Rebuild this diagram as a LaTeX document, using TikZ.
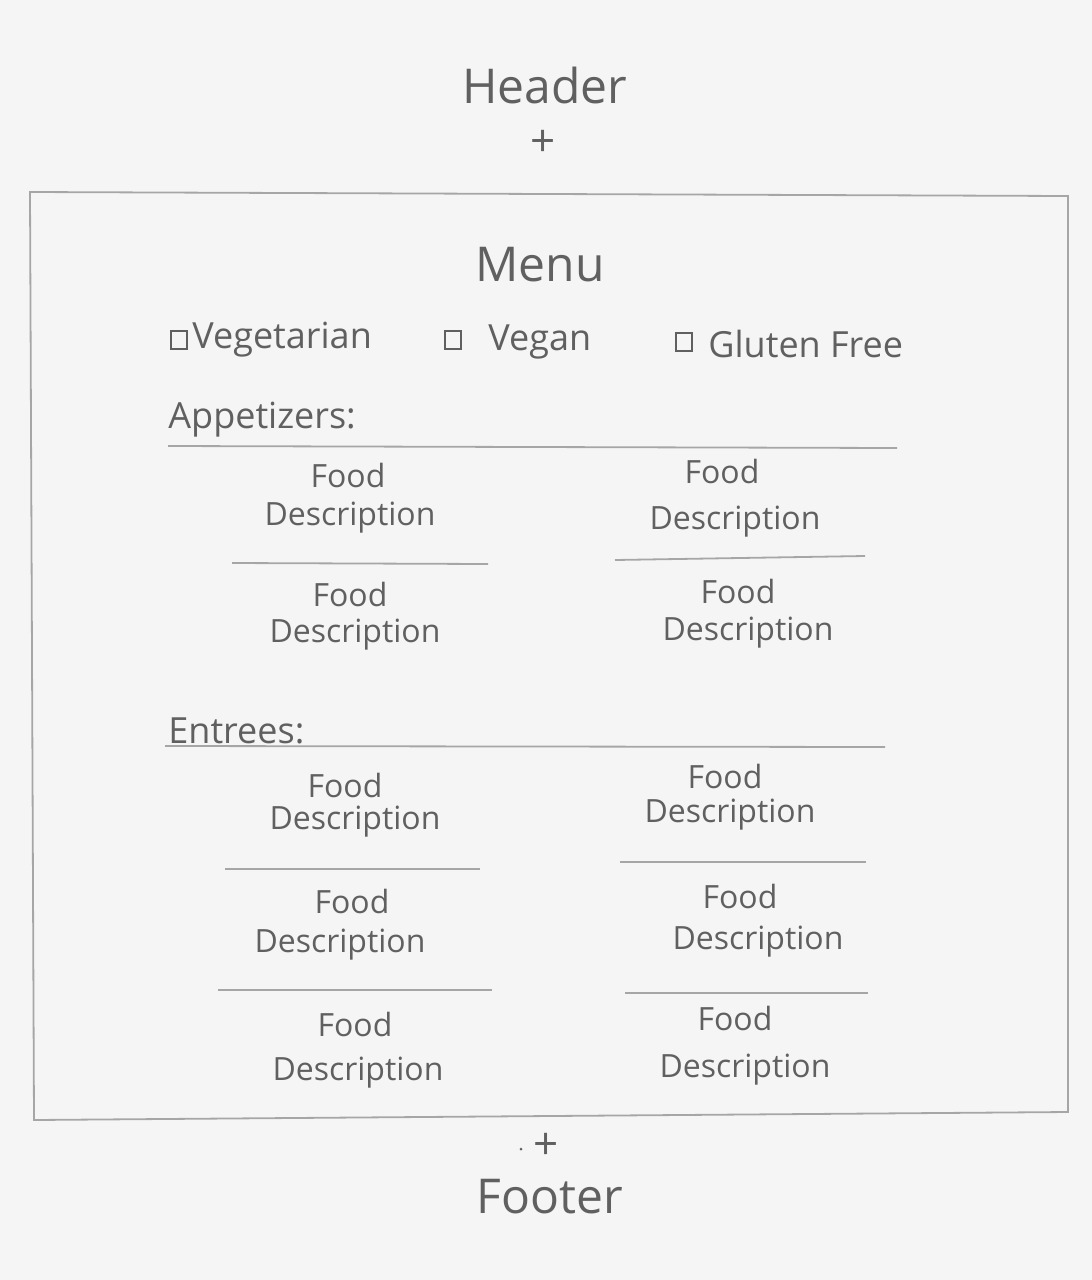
\documentclass[tikz,border=0pt]{standalone}
\usepackage{fontspec}
\setmainfont{Open Sans}
\begin{document}
\begin{tikzpicture}[x=0.5pt,y=-0.5pt,
  pencil/.style={draw=gray!70,line width=0.9pt},
  hw/.style={text=gray!75!black,inner sep=0pt},
  big/.style={hw,font=\fontsize{24}{28}\selectfont},
  mid/.style={hw,font=\fontsize{18}{21}\selectfont},
  plus/.style={hw,font=\fontsize{22}{24}\selectfont},
  food/.style={hw,font=\fontsize{16}{19}\selectfont},
  cbox/.style={draw=gray!75!black,line width=0.9pt,minimum width=8pt,minimum height=9pt,inner sep=0pt}]
\fill[gray!8] (0,0) rectangle (1092,1280);
\useasboundingbox (0,0) rectangle (1092,1280);
% header
\node[big] (header) at (545,85) {Header};
\node[plus] (plus1) at (543,143) {+};
% frame
\draw[pencil] (30,192) -- (1068,196) -- (1068,1112) -- (34,1120) -- cycle;
\node[big] (menu) at (540,265) {Menu};
% filters
\node[cbox] (cb1) at (179,340) {};
\node[mid,anchor=west] (veg) at (192,340) {Vegetarian};
\node[cbox] (cb2) at (453,340) {};
\node[mid,anchor=west] (vegan) at (488,342) {Vegan};
\node[cbox] (cb3) at (684,342) {};
\node[mid,anchor=west] (gf) at (708,344) {Gluten Free};
% appetizers
\node[mid,anchor=west] (app) at (168,420) {Appetizers:};
\coordinate (appL) at (168,446); \coordinate (appR) at (897,448);
\draw[pencil] (appL) -- (appR);
\node[food] (a1f) at (348,475) {Food};
\node[food] (a1d) at (350,518) {Description};
\coordinate (a1l) at (232,563); \coordinate (a1r) at (488,564);
\draw[pencil] (a1l) -- (a1r);
\node[food] (a2f) at (722,471) {Food};
\node[food] (a2d) at (735,522) {Description};
\coordinate (a2l) at (615,560); \coordinate (a2r) at (865,556);
\draw[pencil] (a2l) -- (a2r);
\node[food] (a3f) at (350,594) {Food};
\node[food] (a3d) at (355,635) {Description};
\node[food] (a4f) at (738,591) {Food};
\node[food] (a4d) at (748,633) {Description};
% entrees
\node[mid,anchor=west] (ent) at (168,731) {Entrees:};
\coordinate (entL) at (165,746); \coordinate (entR) at (885,747);
\draw[pencil] (entL) -- (entR);
\node[food] (e1f) at (345,785) {Food};
\node[food] (e1d) at (355,822) {Description};
\coordinate (e1l) at (225,869); \coordinate (e1r) at (480,869);
\draw[pencil] (e1l) -- (e1r);
\node[food] (e2f) at (725,776) {Food};
\node[food] (e2d) at (730,815) {Description};
\coordinate (e2l) at (620,862); \coordinate (e2r) at (866,862);
\draw[pencil] (e2l) -- (e2r);
\node[food] (e3f) at (352,901) {Food};
\node[food] (e3d) at (340,945) {Description};
\coordinate (e3l) at (218,990); \coordinate (e3r) at (492,990);
\draw[pencil] (e3l) -- (e3r);
\node[food] (e4f) at (740,896) {Food};
\node[food] (e4d) at (758,942) {Description};
\coordinate (e4l) at (625,993); \coordinate (e4r) at (868,993);
\draw[pencil] (e4l) -- (e4r);
\node[food] (e5f) at (355,1024) {Food};
\node[food] (e5d) at (358,1073) {Description};
\node[food] (e6f) at (735,1018) {Food};
\node[food] (e6d) at (745,1070) {Description};
% footer
\node[plus] (plus2) at (546,1146) {+};
\fill[gray!75!black] (521,1149) circle (1.5);
\node[big] (footer) at (550,1197) {Footer};
\end{tikzpicture}
\end{document}
